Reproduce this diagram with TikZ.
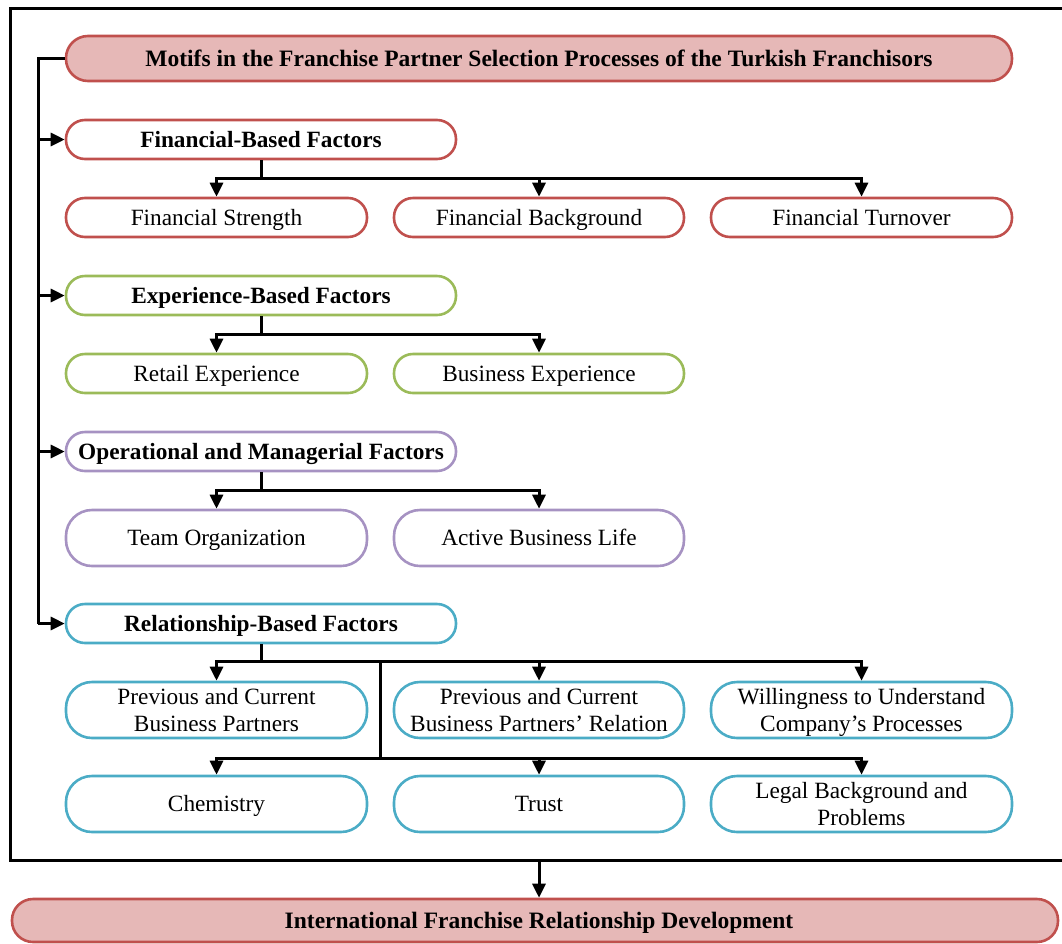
\documentclass[tikz,border=0pt]{standalone}
\usepackage{fontspec}
\setmainfont{Liberation Serif}
\usetikzlibrary{arrows.meta}
\definecolor{redline}{HTML}{C0504D}
\definecolor{redfill}{HTML}{E6B8B7}
\definecolor{greenline}{HTML}{9BBB59}
\definecolor{purpleline}{HTML}{A692C2}
\definecolor{blueline}{HTML}{4BACC6}
% line strut so every text line is centred the same way
\newcommand{\lnstrut}{\rule[-0.22em]{0pt}{1.11em}}
\tikzset{
  box/.style={draw, line width=2.6pt, rectangle, inner sep=0pt, align=center,
    font=\fontsize{23.3}{27.5}\selectfont, minimum height=39pt, rounded corners=19pt},
  tall/.style={minimum height=56pt, rounded corners=26pt},
  head/.style={box, minimum width=390pt, font=\fontsize{23.3}{27.5}\selectfont\bfseries},
  leaf/.style={box, minimum width=301pt},
  midleaf/.style={box, minimum width=290pt},
  redbox/.style={draw=redline},
  greenbox/.style={draw=greenline},
  purplebox/.style={draw=purpleline},
  bluebox/.style={draw=blueline},
  wire/.style={line width=3pt, line join=miter},
  arr/.style={wire, -{Triangle[length=14pt,width=13pt]}},
}
\begin{document}
\begin{tikzpicture}[x=1pt,y=-1pt]
\useasboundingbox (0,0) rectangle (1062,943);
% outer frame (its right side runs past the page edge)
\draw[line width=3pt] (1080,8) -- (10,8) -- (10,860) -- (1080,860);

% main motif
\node[box, redbox, fill=redfill, minimum width=946pt, minimum height=45pt, rounded corners=22pt,
  font=\fontsize{23.5}{27.5}\selectfont\bfseries] (title) at (539,58.5)
  {\lnstrut Motifs in the Franchise Partner Selection Processes of the Turkish Franchisors};

% financial group
\node[head, redbox] (fin) at (261,139.5) {\lnstrut Financial-Based Factors};
\node[leaf, redbox] (fs) at (216.5,217.5) {\lnstrut Financial Strength};
\node[midleaf, redbox] (fb) at (539,217.5) {\lnstrut Financial Background};
\node[leaf, redbox] (ft) at (861.5,217.5) {\lnstrut Financial Turnover};

% experience group
\node[head, greenbox] (exp) at (261,295.5) {\lnstrut Experience-Based Factors};
\node[leaf, greenbox] (re) at (216.5,373.5) {\lnstrut Retail Experience};
\node[midleaf, greenbox] (be) at (539,373.5) {\lnstrut Business Experience};

% operational group
\node[head, purplebox] (op) at (261,451.5) {\lnstrut Operational and Managerial Factors};
\node[leaf, tall, purplebox] (to) at (216.5,538) {\lnstrut Team Organization};
\node[midleaf, tall, purplebox] (ab) at (539,538) {\lnstrut Active Business Life};

% relationship group
\node[head, bluebox] (rel) at (261,623.5) {\lnstrut Relationship-Based Factors};
\node[leaf, tall, bluebox] (pc) at (216.5,710)
  {\lnstrut Previous and Current\\\lnstrut Business Partners};
\node[midleaf, tall, bluebox] (pr) at (539,710)
  {\lnstrut Previous and Current\\\lnstrut Business Partners’ Relation};
\node[leaf, tall, bluebox] (wu) at (861.5,710)
  {\lnstrut Willingness to Understand\\\lnstrut Company’s Processes};
\node[leaf, tall, bluebox] (ch) at (216.5,804) {\lnstrut Chemistry};
\node[midleaf, tall, bluebox] (tr) at (539,804) {\lnstrut Trust};
\node[leaf, tall, bluebox] (lb) at (861.5,804)
  {\lnstrut Legal Background and\\\lnstrut Problems};

% outcome
\node[box, redbox, fill=redfill, minimum width=1046pt, minimum height=43pt, rounded corners=21pt] (out)
  at (535,920.5) {};
\node[font=\fontsize{23.5}{27.5}\selectfont\bfseries, inner sep=0pt] (outlabel) at (539,921)
  {\lnstrut International Franchise Relationship Development};

% trunk on the left
\coordinate (trunk) at (38,58.5);
\draw[wire] (title.west) -- (trunk) -- (trunk |- rel.west);
\draw[arr] (trunk |- fin.west) -- (fin.west);
\draw[arr] (trunk |- exp.west) -- (exp.west);
\draw[arr] (trunk |- op.west) -- (op.west);
\draw[arr] (trunk |- rel.west) -- (rel.west);

% financial branches
\coordinate (jf) at (261,178);
\draw[wire] (fin.south) -- (jf);
\draw[arr] (jf) -| (fs.north);
\draw[arr] (jf) -| (fb.north);
\draw[arr] (jf) -| (ft.north);

% experience branches
\coordinate (je) at (261,334);
\draw[wire] (exp.south) -- (je);
\draw[arr] (je) -| (re.north);
\draw[arr] (je) -| (be.north);

% operational branches
\coordinate (jo) at (261,490);
\draw[wire] (op.south) -- (jo);
\draw[arr] (jo) -| (to.north);
\draw[arr] (jo) -| (ab.north);

% relationship branches
\coordinate (jr) at (261,661);
\coordinate (jd) at (380,661);
\coordinate (jl) at (380,758);
\draw[wire] (rel.south) -- (jr);
\draw[arr] (jr) -| (pc.north);
\draw[arr] (jr) -| (pr.north);
\draw[arr] (jr) -| (wu.north);
\draw[wire] (jd) -- (jl);
\draw[arr] (jl) -| (ch.north);
\draw[arr] (jl) -| (tr.north);
\draw[arr] (jl) -| (lb.north);

% frame to outcome
\coordinate (fo) at (539,860);
\draw[arr] (fo) -- (fo |- out.north);
\end{tikzpicture}
\end{document}
